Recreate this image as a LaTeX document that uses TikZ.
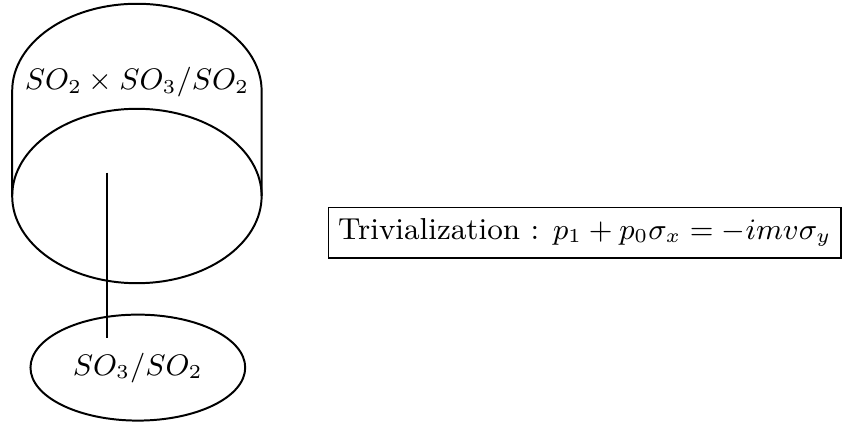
\documentclass[tikz,border=0pt]{standalone}
\usepackage{amsmath, amssymb}
\usepackage{tikz}
\usetikzlibrary{shapes.geometric}

\begin{document}
\begin{tikzpicture}[semithick, every node/.style={font=\fontsize{9.2}{11}\selectfont}]
\useasboundingbox (0,0) rectangle (8.99,-4.52);
% total space: cylinder over the base
\draw (0.13,-2.09) -- (0.13,-0.97) arc (180:0:1.33 and 0.93) -- (2.79,-2.09);
\draw (1.46,-2.09) ellipse (1.33 and 0.93);
\node (fiber) at (1.46,-0.88) {$SO_2\times SO_3/SO_2$};
% base
\node[ellipse, draw, inner sep=0pt, minimum width=2.29cm, minimum height=1.13cm] (base) at (1.47,-3.92) {$SO_3/SO_2$};
\coordinate (top) at (1.14,-1.84);
\coordinate (bot) at (1.14,-3.60);
\draw[thick] (top) -- (bot);
\node[draw, thin, minimum height=0.54cm, inner sep=3pt] (triv) at (6.235,-2.48) {Trivialization : $p_1+p_0\sigma_x=-imv\sigma_y$};
\end{tikzpicture}
\end{document}
